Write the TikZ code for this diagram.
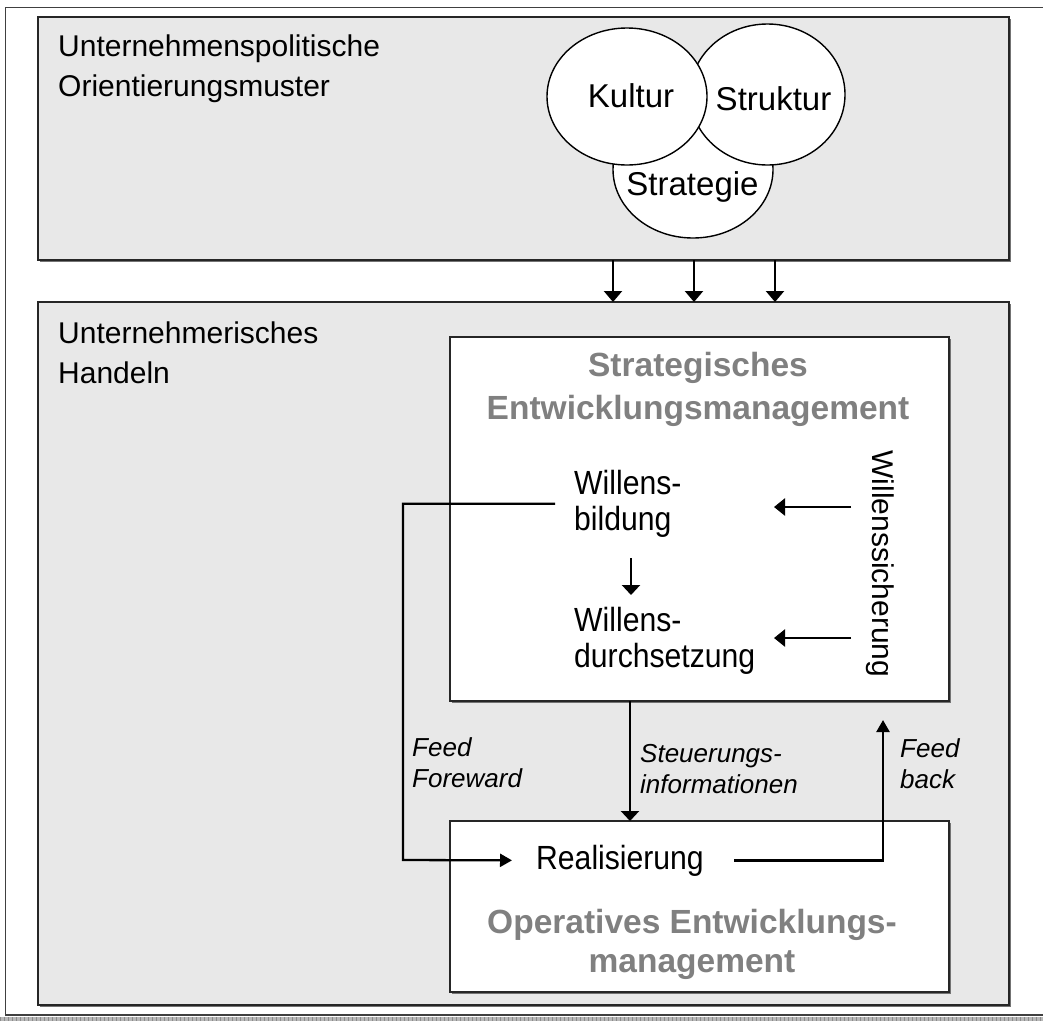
\documentclass[tikz,border=0pt]{standalone}
\usepackage{fontspec}
\setmainfont{Liberation Sans}
\newfontfamily\narrowface[FakeStretch=0.9]{Liberation Sans}
\usetikzlibrary{arrows.meta,shapes.geometric,shadows}
\definecolor{panelgray}{HTML}{E8E8E8}
\definecolor{titlegray}{HTML}{808080}
\definecolor{framegray}{HTML}{404040}

\begin{document}
\begin{tikzpicture}[x=1pt,y=-1pt,
  box/.style={draw=black!85, line width=1.3pt, inner sep=0pt, outer sep=0pt,
    anchor=north west,
    drop shadow={shadow xshift=1.5pt, shadow yshift=-1.5pt, fill=black!55, opacity=1}},
  panel/.style={box, fill=panelgray},
  wbox/.style={box, fill=white},
  ring/.style={ellipse, draw=black, line width=1.4pt, fill=white, inner sep=0pt},
  bodytext/.style={font=\narrowface\fontsize{33.5}{36}\selectfont, inner sep=0pt, align=left},
  ringtext/.style={font=\fontsize{33}{38}\selectfont, inner sep=0pt},
  paneltitle/.style={font=\fontsize{30}{40}\selectfont, inner sep=0pt, align=left},
  notetext/.style={font=\fontsize{26}{31}\selectfont\itshape, inner sep=0pt, align=left},
  flow/.style={line width=2.3pt, -{Triangle[width=18pt,length=11pt]}},
  feed/.style={line width=2.3pt, -{Triangle[width=13pt,length=12pt]}}
]
\useasboundingbox (0,0) rectangle (1043,1021);

% outer frame and bottom strip
\draw[framegray, line width=1.4pt] (1043,7.5) -- (5.5,7.5) -- (5.5,1015) -- (1043,1015);
\fill[black!28] (0,1017) rectangle (1043,1021);
\foreach \i in {0,4,...,1040} \draw[black!45, line width=0.6pt] (\i,1017) -- (\i,1021);

% the two grey panels
\node (orient) [panel, minimum width=971pt, minimum height=243pt] at (38,17) {};
\node (act) [panel, minimum width=971pt, minimum height=703pt] at (38,302) {};

\node (t1) [paneltitle, anchor=north west] at (58,35) {Unternehmenspolitische\\Orientierungsmuster};
\node (t2) [paneltitle, anchor=north west] at (58,322) {Unternehmerisches\\Handeln};

% three overlapping orientation patterns
\node (cStrat) [ring, minimum width=160pt, minimum height=137pt] at (693,169.5) {};
\node (cStruk) [ring, minimum width=155pt, minimum height=141pt] at (767.5,94.5) {};
\node (cKult) [ring, minimum width=160pt, minimum height=137pt] at (627,96.5) {};
\node (lKult) [ringtext, anchor=base] at (631,107) {Kultur};
\node (lStruk) [ringtext, anchor=base] at (773.5,110) {Struktur};
\node (lStrat) [ringtext, anchor=base] at (692.5,195) {Strategie};

% influence arrows between the panels
\coordinate (a1) at (613,0);
\coordinate (a2) at (694,0);
\coordinate (a3) at (775,0);
\foreach \a in {a1,a2,a3}
  \draw[flow] (orient.south -| \a) -- (act.north -| \a);

% strategic development management
\node (se) [wbox, minimum width=499pt, minimum height=364pt] at (450,337) {};
\node (seTitle) [font=\fontsize{33.5}{43}\selectfont\bfseries, text=titlegray,
  inner sep=0pt, align=center, anchor=north] at (698,352)
  {Strategisches\\Entwicklungsmanagement};
\node (wb) [bodytext, anchor=north west] at (574,470) {Willens-\\bildung};
\node (wd) [bodytext, anchor=north west] at (574,607) {Willens-\\durchsetzung};
\node (ws) [font=\fontsize{30}{36}\selectfont, inner sep=0pt, rotate=-90] at (880,564) {Willenssicherung};

\coordinate (wsA) at (851,507);
\coordinate (wsAe) at (774,507);
\coordinate (wsB) at (851,638);
\coordinate (wsBe) at (774,638);
\draw[line width=2.5pt, -{Triangle[width=17pt,length=11pt]}] (wsA) -- (wsAe);
\draw[line width=2.5pt, -{Triangle[width=17pt,length=11pt]}] (wsB) -- (wsBe);
\coordinate (wdA) at (631,558);
\coordinate (wdB) at (631,595);
\draw[line width=2.3pt, -{Triangle[width=18pt,length=10pt]}] (wdA) -- (wdB);

% operative development management
\node (oe) [wbox, minimum width=499pt, minimum height=171pt] at (450,821) {};
\node (real) [bodytext, anchor=base west] at (536,869) {Realisierung};
\node (oeTitle) [font=\fontsize{33.5}{39}\selectfont\bfseries, text=titlegray,
  inner sep=0pt, align=center, anchor=north] at (692,909)
  {Operatives Entwicklungs-\\management};

% control information
\coordinate (sx) at (630,0);
\draw[line width=2.3pt, -{Triangle[width=18pt,length=10pt]}] (se.south -| sx) -- (oe.north -| sx);
\node (lSteu) [notetext, anchor=north west] at (640,744) {Steuerungs-\\informationen};

% feed forward
\coordinate (ffX) at (403,860);
\draw[feed] ([xshift=-19pt]wb.west) -| (ffX) -- ([xshift=-24pt]real.west);
\node (lFF) [notetext, anchor=north west] at (412,737) {Feed\\Foreward};

% feed back
\coordinate (fbTop) at (883,720);
\draw[feed] ([xshift=30pt]real.east) -| (fbTop);
\node (lFB) [notetext, anchor=north west] at (900,738) {Feed\\back};
\end{tikzpicture}
\end{document}
